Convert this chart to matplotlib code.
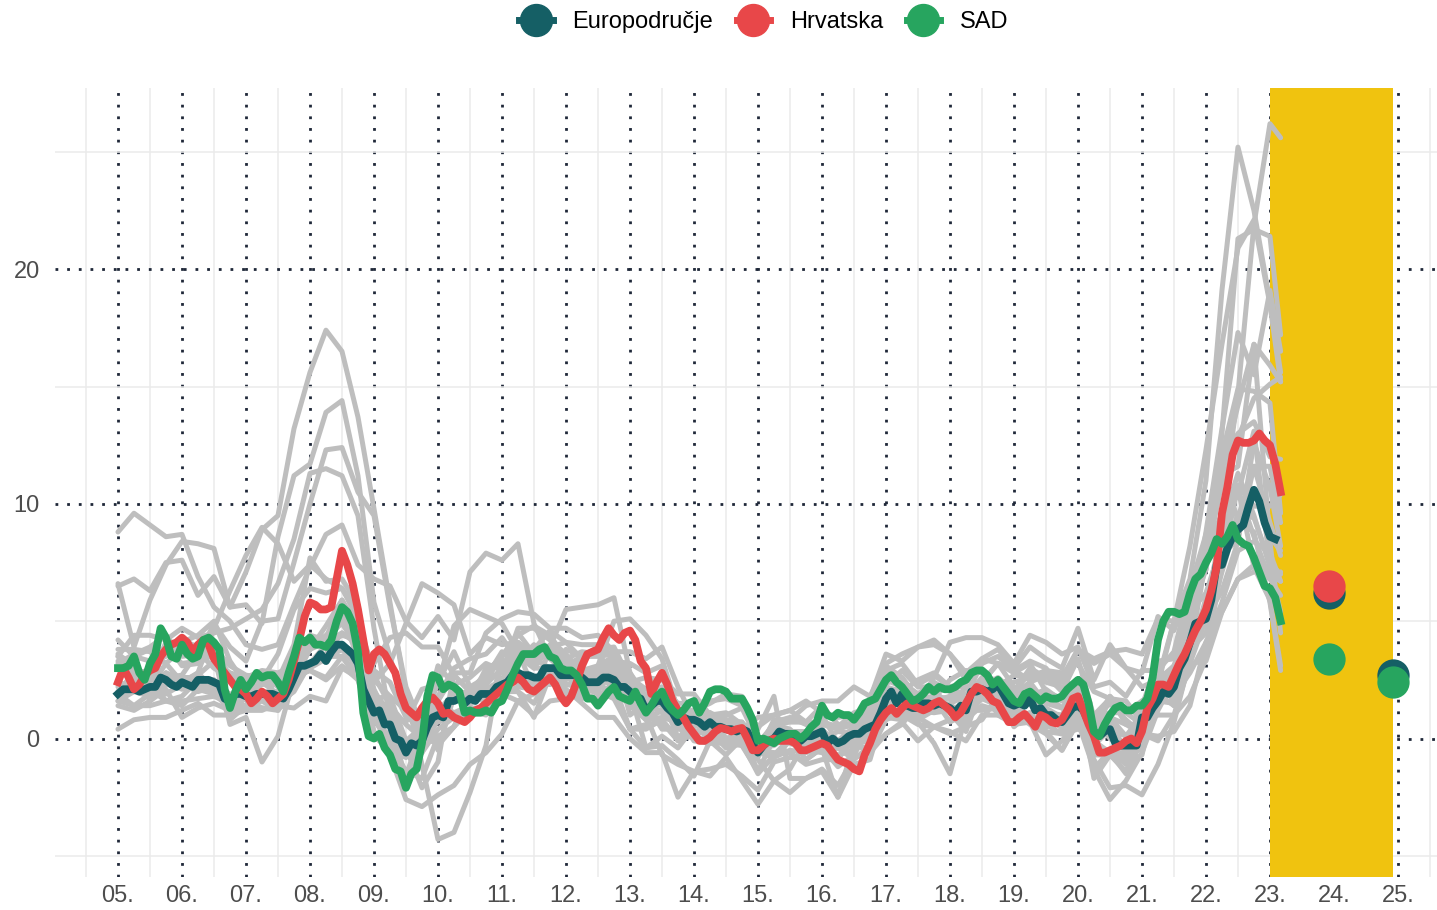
import matplotlib
matplotlib.use("Agg")
import matplotlib.pyplot as plt
from matplotlib.lines import Line2D
import numpy as np

plt.rcParams["font.family"] = ["Liberation Sans", "DejaVu Sans"]

# --- data -----------------------------------------------------------------
# monthly annual inflation rates, starting January 2005
euro_area = [
    1.9, 2.1, 2.1, 2.1, 2.0, 2.1, 2.2, 2.2, 2.6, 2.5, 2.3, 2.2,
    2.4, 2.3, 2.2, 2.5, 2.5, 2.5, 2.4, 2.3, 1.7, 1.6, 1.9, 1.9,
    1.8, 1.8, 1.9, 1.9, 1.9, 1.9, 1.8, 1.7, 2.1, 2.6, 3.1, 3.1,
    3.2, 3.3, 3.6, 3.3, 3.7, 4.0, 4.0, 3.8, 3.6, 3.2, 2.1, 1.6,
    1.1, 1.2, 0.6, 0.6, 0.0, -0.1, -0.6, -0.2, -0.3, -0.1, 0.5, 0.9,
    1.0, 0.9, 1.6, 1.6, 1.7, 1.5, 1.7, 1.6, 1.9, 1.9, 1.9, 2.2,
    2.3, 2.4, 2.7, 2.8, 2.7, 2.7, 2.6, 2.6, 3.0, 3.0, 3.0, 2.7,
    2.7, 2.7, 2.7, 2.6, 2.4, 2.4, 2.4, 2.6, 2.6, 2.5, 2.2, 2.2,
    2.0, 1.8, 1.7, 1.2, 1.4, 1.6, 1.6, 1.3, 1.1, 0.7, 0.9, 0.8,
    0.8, 0.7, 0.5, 0.7, 0.5, 0.5, 0.4, 0.4, 0.3, 0.4, 0.3, -0.2,
    -0.6, -0.3, -0.1, 0.0, 0.3, 0.2, 0.2, 0.1, -0.1, 0.1, 0.1, 0.2,
    0.3, -0.2, 0.0, -0.2, -0.1, 0.1, 0.2, 0.2, 0.4, 0.5, 0.6, 1.1,
    1.7, 2.0, 1.5, 1.9, 1.4, 1.3, 1.3, 1.5, 1.5, 1.4, 1.5, 1.4,
    1.3, 1.1, 1.4, 1.2, 2.0, 2.0, 2.1, 2.0, 2.1, 2.3, 1.9, 1.5,
    1.4, 1.5, 1.4, 1.7, 1.2, 1.3, 1.0, 1.0, 0.8, 0.7, 1.0, 1.3,
    1.4, 1.2, 0.7, 0.3, 0.1, 0.3, 0.4, -0.2, -0.3, -0.3, -0.3, -0.3,
    0.9, 0.9, 1.3, 1.6, 2.0, 1.9, 2.2, 3.0, 3.4, 4.1, 4.9, 5.0,
    5.1, 5.9, 7.4, 7.4, 8.1, 8.6, 8.9, 9.1, 9.9, 10.6, 10.1, 9.2,
    8.6, 8.5,
]
croatia = [
    2.4, 3.0, 2.6, 2.1, 2.3, 2.7, 2.9, 3.0, 3.5, 3.8, 4.0, 4.1,
    4.3, 4.1, 3.7, 4.0, 4.2, 4.0, 3.4, 3.1, 2.8, 2.5, 2.2, 2.1,
    1.9, 1.5, 1.7, 2.0, 1.8, 1.5, 1.7, 1.9, 2.5, 3.3, 4.2, 5.2,
    5.8, 5.7, 5.5, 5.5, 5.6, 6.8, 8.0, 7.4, 6.6, 5.5, 4.2, 2.9,
    3.6, 3.8, 3.6, 3.2, 2.8, 1.9, 1.3, 1.1, 0.9, 1.3, 1.6, 1.75,
    1.5, 1.05, 1.1, 0.9, 0.8, 0.7, 0.9, 1.2, 1.3, 1.5, 1.7, 1.9,
    2.1, 2.3, 2.4, 2.6, 2.4, 2.1, 2.0, 2.2, 2.4, 2.6, 2.3, 1.8,
    1.5, 1.8, 2.4, 3.1, 3.6, 3.7, 3.8, 4.3, 4.7, 4.4, 4.2, 4.5,
    4.6, 4.2, 3.3, 3.0, 1.9, 2.4, 2.8, 2.3, 1.6, 1.2, 0.9, 0.5,
    0.2, -0.1, -0.1, 0.05, 0.3, 0.45, 0.4, 0.3, 0.4, 0.45, 0.0, -0.5,
    -0.5, -0.3, -0.1, 0.0, -0.1, -0.1, -0.1, -0.2, -0.5, -0.5, -0.4, -0.3,
    -0.2, -0.3, -0.6, -0.9, -1.0, -1.1, -1.3, -1.4, -0.7, -0.2, 0.4, 0.8,
    1.1, 1.3, 1.05, 1.3, 1.5, 1.4, 1.3, 1.2, 1.3, 1.5, 1.6, 1.4,
    1.2, 0.9, 1.1, 1.5, 1.9, 2.2, 2.1, 1.9, 1.6, 1.5, 1.1, 0.7,
    0.7, 0.9, 1.05, 0.8, 0.5, 1.0, 0.9, 0.7, 0.64, 0.8, 1.2, 1.7,
    1.8, 1.2, 0.6, 0.1, -0.6, -0.6, -0.5, -0.4, -0.3, -0.1, 0.0, -0.2,
    0.3, 1.3, 1.7, 2.3, 2.3, 2.2, 2.7, 3.2, 3.6, 4.1, 4.6, 5.0,
    5.5, 6.3, 7.3, 9.6, 10.7, 12.1, 12.7, 12.6, 12.6, 12.7, 13.0, 12.7,
    12.5, 11.7, 10.5,
]
usa = [
    3.0, 3.0, 3.1, 3.5, 2.8, 2.5, 3.2, 3.6, 4.7, 4.3, 3.5, 3.4,
    4.0, 3.6, 3.4, 3.5, 4.2, 4.3, 4.1, 3.8, 2.1, 1.3, 2.0, 2.5,
    2.1, 2.4, 2.8, 2.6, 2.7, 2.7, 2.4, 2.0, 2.8, 3.5, 4.3, 4.1,
    4.3, 4.0, 4.0, 3.9, 4.2, 5.0, 5.6, 5.4, 4.9, 3.7, 1.1, 0.1,
    0.0, 0.2, -0.4, -0.7, -1.3, -1.4, -2.1, -1.5, -1.3, -0.2, 1.8, 2.7,
    2.6, 2.1, 2.3, 2.2, 2.0, 1.1, 1.2, 1.1, 1.1, 1.2, 1.1, 1.5,
    1.6, 2.1, 2.7, 3.2, 3.6, 3.6, 3.6, 3.8, 3.9, 3.5, 3.4, 3.0,
    2.9, 2.9, 2.7, 2.3, 1.7, 1.7, 1.4, 1.7, 2.0, 2.2, 1.8, 1.7,
    1.6, 2.0, 1.5, 1.1, 1.4, 1.8, 2.0, 1.5, 1.2, 1.0, 1.2, 1.5,
    1.6, 1.1, 1.5, 2.0, 2.1, 2.1, 2.0, 1.7, 1.7, 1.7, 1.3, 0.8,
    -0.1, 0.0, -0.1, -0.2, 0.0, 0.1, 0.2, 0.2, 0.0, 0.2, 0.5, 0.7,
    1.4, 1.0, 0.9, 1.1, 1.0, 1.0, 0.8, 1.1, 1.5, 1.6, 1.7, 2.1,
    2.5, 2.7, 2.4, 2.2, 1.9, 1.6, 1.7, 1.9, 2.2, 2.0, 2.2, 2.1,
    2.1, 2.2, 2.4, 2.5, 2.8, 2.9, 2.9, 2.7, 2.3, 2.5, 2.2, 1.9,
    1.6, 1.5, 1.9, 2.0, 1.8, 1.6, 1.8, 1.7, 1.7, 1.8, 2.1, 2.3,
    2.5, 2.3, 1.5, 0.3, 0.1, 0.6, 1.0, 1.3, 1.4, 1.2, 1.2, 1.4,
    1.4, 1.7, 2.6, 4.2, 5.0, 5.4, 5.4, 5.3, 5.4, 6.2, 6.8, 7.0,
    7.5, 7.9, 8.5, 8.3, 8.6, 9.1, 8.5, 8.3, 8.2, 7.7, 7.1, 6.5,
    6.4, 6.0, 5.0,
]

# projections (December 2023, December 2024)
proj_years = [2023 + 11 / 12, 2024 + 11 / 12]
euro_area_proj = [6.2, 2.7]
croatia_proj = [6.5]
usa_proj = [3.4, 2.4]

# other EU member states, quarterly (Jan, Apr, Jul, Oct), then Jan and Mar 2023
latvia = [6.5, 6.8, 6.3, 7.5, 7.6, 6.1, 6.9, 5.6, 7.1, 8.9, 9.5, 13.2,
          15.6, 17.4, 16.5, 13.7, 9.8, 5.8, 1.9, -1.1, -4.3, -4.0, -2.3, -0.3,
          3.5, 4.4, 4.8, 4.4, 3.4, 2.8, 2.0, 1.7, 0.4, -0.4, 0.1, -0.4,
          0.5, 0.8, 0.8, 0.6, -0.2, 0.6, 0.4, -0.3, -0.4, -0.8, -0.1, 0.9,
          2.9, 3.2, 2.3, 2.7, 2.2, 1.8, 2.4, 3.2, 2.9, 3.3, 3.0, 2.1,
          2.2, -0.2, -0.6, -0.8, -0.4, 1.5, 2.7, 6.0, 7.5, 13.0, 21.3, 21.7,
          21.4, 17.2]
estonia = [3.5, 4.4, 4.4, 4.2, 4.7, 4.3, 4.5, 4.7, 5.1, 5.5, 6.6, 8.5,
           11.3, 11.5, 11.2, 9.5, 4.7, 0.9, -0.4, -2.1, -1.0, 2.8, 2.8, 4.5,
           5.1, 5.4, 5.3, 4.7, 4.7, 4.3, 4.4, 3.7, 3.7, 3.4, 3.9, 2.2,
           0.8, 0.8, -0.2, 0.4, -0.6, 0.4, 0.1, -0.6, 0.1, -0.1, 0.5, 1.7,
           3.6, 3.3, 3.9, 4.0, 3.6, 2.8, 3.4, 3.2, 2.8, 3.2, 2.0, 1.7,
           1.9, -1.7, -0.7, -1.4, 0.2, 2.5, 5.0, 6.8, 11.0, 19.1, 25.2, 22.5,
           18.6, 15.6]
lithuania = [3.3, 2.9, 2.2, 3.2, 3.8, 3.5, 4.9, 3.9, 3.3, 5.0, 5.1, 7.5,
             10.0, 12.3, 12.4, 10.5, 9.5, 5.6, 2.2, 0.5, -0.3, 0.5, 1.9, 2.5,
             2.8, 4.7, 4.7, 4.2, 3.6, 2.8, 3.0, 3.2, 2.5, 1.5, 0.4, 0.4,
             0.3, 0.4, 0.5, 0.2, -1.4, -0.8, -0.1, -0.1, 0.7, 0.5, 1.1, 1.3,
             3.2, 3.6, 3.9, 4.2, 3.6, 2.5, 2.2, 2.6, 2.0, 2.8, 2.4, 2.2,
             2.4, 0.8, 1.5, 0.8, 0.2, 2.3, 5.0, 8.2, 12.3, 16.8, 20.9, 22.1,
             18.5, 15.2]
bulgaria = [6.6, 3.9, 5.9, 7.4, 8.4, 8.3, 8.1, 5.6, 5.7, 4.9, 8.6, 11.2,
            11.7, 13.9, 14.4, 11.2, 5.8, 3.5, 1.0, 0.3, 1.8, 3.0, 3.4, 3.6,
            4.3, 3.3, 3.4, 3.0, 1.9, 1.7, 2.4, 3.0, 2.6, 1.0, -0.7, -1.1,
            -1.4, -1.3, -1.1, -1.6, -2.2, -1.0, -0.8, -0.9, -0.4, -2.5, -1.1, -0.9,
            1.4, 1.7, 0.8, 1.6, 1.8, 1.8, 3.2, 3.5, 2.9, 2.5, 2.7, 2.0,
            3.4, 0.9, 1.1, 1.1, 0.6, 2.0, 2.5, 5.2, 7.7, 12.1, 14.9, 14.8,
            14.3, 9.6]
romania = [8.8, 9.6, 9.1, 8.6, 8.7, 6.9, 5.6, 5.0, 4.0, 3.8, 4.0, 5.7,
           7.3, 8.7, 9.1, 7.4, 6.8, 6.5, 5.0, 4.3, 5.2, 4.2, 7.1, 7.9,
           7.6, 8.3, 4.9, 3.4, 2.8, 1.7, 3.1, 5.0, 5.1, 4.4, 3.4, 1.2,
           1.2, 1.5, 1.9, 1.8, 0.4, 1.8, -1.7, -1.7, -1.4, -2.5, -0.2, -0.6,
           0.2, 0.6, 1.5, 2.6, 4.1, 4.3, 4.3, 4.0, 3.2, 4.4, 4.1, 3.6,
           3.9, 2.2, 2.4, 1.8, 2.9, 2.9, 3.7, 6.5, 7.2, 11.7, 13.0, 13.5,
           12.0, 11.9]
hungary = [3.8, 3.8, 3.7, 3.2, 2.4, 2.8, 4.7, 6.3, 7.8, 9.0, 8.3, 6.7,
           7.4, 6.8, 6.4, 5.1, 2.4, 3.2, 4.9, 6.6, 6.2, 5.7, 3.6, 4.3,
           4.0, 4.1, 3.1, 3.9, 5.5, 5.6, 5.7, 6.0, 2.8, 1.8, 1.8, 0.0,
           0.8, -0.2, 0.5, -0.3, -1.4, 0.0, 0.0, 0.2, 1.0, -0.2, -0.1, 1.1,
           2.3, 2.9, 2.2, 2.2, 2.2, 2.4, 3.4, 3.8, 3.0, 3.9, 3.4, 3.0,
           4.7, 2.5, 4.0, 3.0, 2.8, 5.2, 4.6, 6.6, 7.9, 9.6, 14.7, 21.9,
           26.2, 25.6]
czechia = [1.4, 1.2, 1.6, 2.3, 2.4, 2.4, 2.5, 0.8, 1.4, 2.5, 2.5, 4.0,
           7.7, 6.7, 6.8, 5.7, 1.4, 0.7, -0.1, -0.6, 0.4, 0.9, 1.6, 1.8,
           1.9, 1.6, 1.9, 2.4, 3.8, 3.5, 3.5, 3.6, 1.8, 1.7, 1.4, 0.8,
           0.3, 0.2, 0.6, 0.7, -0.1, 0.2, 0.2, 0.1, 0.6, 0.4, 0.6, 0.8,
           2.2, 2.0, 2.5, 2.8, 2.2, 2.2, 2.3, 2.2, 2.7, 2.6, 2.9, 2.6,
           3.8, 3.2, 3.6, 3.0, 2.2, 2.5, 3.1, 4.8, 8.8, 13.2, 17.3, 15.5,
           19.1, 16.5]
poland = [3.6, 3.1, 1.6, 2.1, 0.9, 1.3, 1.5, 1.2, 1.9, 2.3, 2.4, 3.1,
          4.1, 4.1, 4.5, 4.0, 3.2, 4.3, 4.5, 3.9, 3.9, 2.7, 2.0, 2.8,
          3.5, 4.1, 3.6, 3.9, 4.1, 4.0, 4.0, 3.4, 1.6, 0.8, 0.9, 0.7,
          0.6, 0.4, -0.2, -0.3, -0.6, -0.8, -0.5, -0.6, -0.4, -0.7, -0.5, 0.2,
          1.6, 1.9, 1.6, 1.6, 1.3, 1.2, 1.2, 1.3, 0.6, 2.4, 2.7, 2.4,
          3.8, 3.4, 3.7, 3.8, 3.6, 5.1, 5.0, 6.4, 8.7, 11.4, 14.2, 16.8,
          15.9, 15.2]
slovakia = [3.1, 2.5, 2.2, 3.9, 4.1, 4.4, 5.0, 3.3, 2.3, 1.6, 1.2, 2.3,
            3.2, 4.0, 4.4, 4.2, 2.7, 1.4, 0.6, 0.0, -0.2, 0.5, 1.2, 1.0,
            3.2, 3.8, 3.8, 4.6, 4.1, 3.4, 3.8, 3.9, 2.5, 1.7, 1.6, 0.9,
            -0.1, -0.2, -0.2, -0.1, -0.5, -0.1, -0.2, -0.5, -0.6, -0.4, -0.9, -0.3,
            0.9, 0.8, 1.5, 1.7, 2.5, 2.9, 2.8, 2.2, 2.4, 2.6, 2.9, 2.8,
            3.2, 2.0, 1.7, 1.6, 0.7, 1.7, 2.5, 4.4, 7.7, 10.9, 12.8, 14.5,
            15.1, 15.4]
netherlands = [1.9, 1.4, 1.4, 1.6, 1.6, 1.7, 1.8, 1.5, 1.4, 1.8, 1.4, 1.3,
               1.8, 1.6, 3.0, 2.6, 1.7, 1.8, -0.1, 0.5, 0.7, 0.9, 1.3, 1.3,
               2.0, 2.0, 1.5, 2.7, 2.9, 2.8, 2.6, 3.3, 3.2, 2.8, 3.1, 1.3,
               0.8, 0.6, 0.3, 0.3, -0.4, 0.7, 0.9, 0.6, 0.2, -0.2, -0.2, 0.4,
               1.6, 1.4, 1.5, 1.3, 1.3, 1.0, 2.1, 2.3, 2.0, 3.0, 2.6, 2.8,
               1.7, 1.0, 1.7, 1.1, 1.6, 1.9, 1.4, 3.7, 7.6, 11.2, 11.6, 16.8,
               8.4, 4.5]
belgium = [2.0, 2.8, 2.9, 2.5, 2.6, 2.6, 2.1, 1.6, 1.7, 1.3, 1.3, 2.5,
           3.8, 4.8, 5.9, 4.8, 2.1, 0.7, -1.7, -0.4, 0.8, 1.9, 2.0, 2.6,
           3.7, 3.3, 4.0, 3.4, 3.4, 2.9, 2.4, 2.7, 1.4, 1.0, 1.6, 0.7,
           1.0, 0.9, 0.6, 0.3, -0.6, 0.8, 0.8, 1.4, 1.6, 1.6, 2.2, 1.8,
           3.1, 2.6, 1.7, 1.8, 1.7, 1.8, 2.4, 3.2, 2.2, 1.8, 1.2, 0.4,
           1.4, 0.0, 1.8, 0.6, 0.6, 3.3, 1.4, 5.4, 8.5, 9.3, 10.4, 13.1,
           7.4, 4.9]
ireland = [1.9, 2.0, 2.3, 2.8, 2.5, 2.7, 3.3, 2.8, 2.6, 2.9, 2.8, 3.1,
           3.1, 3.5, 3.5, 2.7, 1.1, -0.7, -2.6, -2.9, -2.4, -2.0, -1.1, -0.6,
           0.2, 1.6, 1.0, 1.6, 1.7, 1.9, 1.7, 2.3, 0.4, 0.6, 0.7, -0.1,
           0.3, 0.4, 0.5, 0.1, -0.4, -0.3, 0.2, 0.0, 0.0, -0.2, -0.3, -0.4,
           0.2, 0.7, -0.1, 0.5, 0.3, -0.1, 1.0, 1.0, 0.8, 1.7, 0.5, 0.7,
           1.1, -0.4, -0.6, -1.5, -0.1, 1.9, 2.2, 5.1, 5.0, 7.3, 9.6, 9.4,
           7.5, 7.0]
spain = [3.1, 3.5, 3.3, 3.5, 4.2, 3.9, 4.0, 2.6, 2.4, 2.5, 2.3, 3.6,
         4.4, 4.2, 5.3, 3.6, 0.8, -0.2, -1.4, -0.6, 1.1, 1.6, 1.9, 2.3,
         3.0, 3.5, 3.0, 3.0, 2.0, 2.0, 2.2, 3.5, 2.8, 1.5, 1.9, 0.0,
         0.3, 0.3, -0.4, -0.2, -1.5, -0.7, 0.0, -0.9, -0.4, -1.2, -0.7, 0.5,
         2.9, 2.6, 1.7, 1.7, 0.7, 1.1, 2.3, 2.3, 1.0, 1.6, 0.6, 0.2,
         1.1, -0.7, -0.7, -1.0, 0.4, 2.0, 2.9, 5.4, 6.2, 8.3, 10.7, 7.3,
         5.9, 3.1]
greece = [4.2, 3.5, 3.8, 3.8, 3.2, 3.3, 3.9, 3.1, 2.7, 2.6, 2.7, 3.1,
          3.9, 4.4, 4.9, 3.9, 2.0, 1.1, 0.7, 2.1, 2.3, 4.8, 5.5, 5.2,
          4.9, 3.7, 2.1, 3.0, 2.1, 1.5, 0.9, 0.9, 0.0, -0.6, -0.6, -2.5,
          -1.4, -1.6, -0.8, -1.8, -2.8, -1.8, -1.3, -0.1, 0.0, -0.4, 0.2, 0.5,
          1.5, 1.6, 0.9, 0.5, 0.2, 0.5, 0.8, 1.8, 0.5, 1.1, 0.3, -0.5,
          0.8, -0.9, -2.1, -2.0, -2.4, -1.1, 0.7, 3.4, 5.5, 9.1, 11.3, 9.5,
          7.3, 5.4]
slovenia = [3.5, 2.8, 2.0, 2.8, 2.3, 2.8, 2.1, 1.6, 2.4, 2.5, 3.6, 5.5,
            6.4, 6.2, 6.4, 5.5, 1.9, 0.5, -0.6, 0.3, 1.6, 2.7, 2.0, 1.5,
            2.3, 2.0, 0.9, 2.7, 2.3, 2.4, 2.9, 3.3, 2.4, 1.8, 2.8, 1.3,
            0.8, 1.1, 0.0, 0.2, -0.5, -0.6, -0.6, -1.1, -0.9, -0.9, 0.2, 0.8,
            1.5, 1.9, 1.2, 1.4, 1.8, 1.6, 2.4, 2.2, 1.6, 1.8, 2.1, 1.6,
            2.3, -1.3, -0.5, -1.1, -0.7, 2.2, 2.0, 3.5, 6.0, 7.4, 10.8, 9.9,
            9.9, 10.4]
luxembourg = [3.2, 3.6, 3.9, 4.4, 3.5, 3.6, 3.9, 1.3, 2.0, 2.4, 1.9, 3.6,
              4.2, 4.3, 5.9, 4.5, 0.1, -0.1, -1.6, 0.4, 2.4, 3.7, 2.2, 2.6,
              3.5, 4.5, 3.6, 3.9, 3.2, 2.9, 2.7, 3.1, 1.7, 1.5, 2.0, 1.1,
              0.8, 1.0, 1.1, 0.6, -0.8, 0.6, 0.3, 0.3, -0.1, -0.1, 0.2, 0.2,
              2.5, 2.2, 1.8, 2.1, 1.3, 1.4, 2.2, 2.4, 1.9, 2.4, 1.5, 1.3,
              2.3, -0.1, 0.5, -0.4, 1.4, 3.3, 3.4, 5.3, 7.2, 11.5, 9.3, 8.8,
              5.8, 2.9]
portugal = [2.4, 2.0, 2.2, 2.6, 2.7, 3.7, 3.0, 2.6, 2.6, 2.8, 2.2, 2.6,
            2.9, 2.5, 3.1, 2.5, 0.1, -0.5, -1.4, -1.7, 0.1, 0.5, 1.9, 2.4,
            3.6, 4.0, 3.1, 4.0, 3.4, 2.9, 2.8, 2.1, 0.4, 0.4, 0.8, 0.0,
            0.1, -0.1, -0.7, 0.0, -0.4, 0.6, 0.7, 0.7, 0.7, 0.5, 0.7, 0.9,
            1.3, 2.4, 1.0, 1.9, 1.1, 0.3, 2.2, 1.0, 0.6, 0.7, -0.7, -0.1,
            0.8, -0.1, -0.6, -0.6, 0.2, -0.1, 1.0, 1.8, 3.4, 7.4, 9.4, 10.6,
            8.6, 8.0]
malta = [2.2, 2.0, 2.6, 4.1, 3.1, 3.2, 3.6, 0.6, 0.9, -1.0, 0.1, 2.6,
         3.8, 4.1, 5.0, 4.9, 2.9, 2.4, 0.9, 1.2, -0.5, 1.8, 1.6, 3.0,
         3.3, 2.3, 2.4, 2.3, 2.5, 3.4, 3.8, 3.6, 1.0, 1.5, 1.1, 0.5,
         0.8, 0.4, 0.8, 0.4, 0.9, 1.0, 1.2, 1.6, 1.1, 0.9, 1.0, 0.8,
         1.4, 1.1, 1.3, 1.2, 1.3, 1.3, 2.0, 1.8, 1.2, 1.6, 1.9, 1.3,
         1.3, 0.6, 0.9, 0.6, 0.2, 0.1, 0.3, 1.4, 4.1, 5.4, 6.8, 7.4,
         6.8, 7.1]
cyprus = [3.1, 2.6, 2.5, 1.6, 1.8, 2.5, 2.5, 1.5, 1.4, 1.6, 2.6, 2.4,
          4.1, 4.3, 5.3, 3.4, 0.3, -0.6, -0.8, 0.5, 3.1, 2.3, 2.6, 3.2,
          2.9, 3.9, 3.0, 3.9, 3.1, 3.5, 3.9, 1.7, 2.0, -0.4, -0.3, -0.9,
          -1.6, -0.1, 0.0, 0.0, -0.9, -1.8, -2.3, -1.7, -1.3, -2.0, -0.8, -0.6,
          0.8, 1.1, 0.7, -0.2, -1.5, 1.0, 1.7, 1.4, 1.1, 0.6, 0.2, -0.5,
          0.7, -1.3, -2.6, -1.8, -0.6, 1.2, 2.5, 4.4, 5.0, 8.6, 10.6, 8.6,
          6.8, 6.1]
austria = [2.4, 2.2, 2.1, 1.6, 1.4, 2.1, 1.9, 1.3, 1.7, 1.8, 2.0, 2.9,
           3.0, 3.4, 3.8, 3.0, 1.2, 0.6, -0.3, 0.1, 1.0, 1.8, 1.8, 2.1,
           2.5, 3.7, 3.5, 3.8, 2.8, 2.3, 2.1, 2.8, 2.6, 2.1, 2.2, 1.5,
           1.5, 1.6, 1.7, 1.4, 0.5, 1.0, 1.2, 0.7, 1.4, 0.6, 0.6, 1.3,
           1.5, 2.4, 1.9, 2.4, 2.0, 1.9, 2.1, 2.0, 1.7, 1.7, 1.1, 1.0,
           2.2, 0.6, 1.8, 1.1, 1.4, 1.9, 2.8, 3.8, 4.5, 7.1, 9.4, 11.6,
           11.6, 9.2]
germany = [1.6, 1.4, 1.9, 2.4, 2.1, 2.3, 2.1, 1.1, 1.8, 2.0, 2.0, 2.7,
           2.9, 2.6, 3.5, 2.5, 0.9, 0.8, -0.7, -0.1, 0.8, 1.0, 1.2, 1.3,
           2.0, 2.7, 2.6, 2.9, 2.3, 2.2, 1.9, 2.1, 1.9, 1.1, 1.9, 1.2,
           1.2, 1.1, 0.8, 0.7, -0.5, 0.3, 0.1, 0.2, 0.4, -0.3, 0.4, 0.7,
           1.9, 2.0, 1.5, 1.5, 1.4, 2.2, 2.1, 2.4, 1.7, 2.1, 1.1, 0.9,
           1.6, 0.8, 0.0, -0.5, 1.6, 2.1, 3.1, 4.6, 5.1, 7.8, 8.5, 11.6,
           9.2, 7.8]
france = [1.6, 2.0, 1.8, 1.9, 2.3, 2.0, 2.2, 1.2, 1.4, 1.3, 1.2, 2.1,
          3.2, 3.4, 4.0, 3.0, 0.8, 0.1, -0.8, -0.2, 1.2, 1.9, 1.9, 1.8,
          1.9, 2.2, 2.1, 2.5, 2.6, 2.4, 2.2, 2.1, 1.4, 0.8, 1.2, 0.7,
          0.8, 0.8, 0.6, 0.5, -0.4, 0.1, 0.2, 0.2, 0.3, -0.1, 0.4, 0.5,
          1.6, 1.4, 0.8, 1.2, 1.5, 1.8, 2.6, 2.5, 1.4, 1.5, 1.3, 0.9,
          1.7, 0.4, 0.9, 0.1, 0.8, 1.6, 1.5, 3.2, 3.3, 5.4, 6.8, 7.1,
          7.0, 6.7]
italy = [2.0, 2.1, 2.1, 2.6, 2.2, 2.3, 2.3, 1.9, 1.9, 1.8, 1.7, 2.3,
         3.1, 3.6, 4.0, 3.6, 1.4, 1.2, -0.1, 0.3, 1.3, 1.6, 1.8, 2.0,
         1.9, 2.9, 2.1, 3.8, 3.4, 3.7, 3.6, 2.8, 2.4, 1.3, 1.2, 0.8,
         0.6, 0.5, 0.0, 0.2, -0.5, -0.1, 0.3, 0.2, 0.4, -0.4, -0.2, -0.1,
         1.0, 2.0, 1.2, 1.1, 1.2, 0.6, 1.9, 1.7, 0.9, 1.1, 0.3, 0.2,
         0.4, 0.1, 0.8, -0.6, 0.7, 1.0, 1.0, 3.2, 5.1, 6.3, 8.4, 12.6,
         10.7, 8.2]
finland = [0.4, 0.8, 0.9, 0.9, 1.2, 1.5, 1.0, 1.0, 1.2, 1.2, 1.5, 2.0,
           3.2, 3.6, 4.5, 4.1, 2.5, 1.8, 1.2, 0.4, 1.5, 1.1, 1.4, 2.8,
           2.5, 3.3, 3.6, 3.5, 3.2, 2.9, 3.1, 3.5, 2.4, 2.6, 2.5, 1.9,
           1.9, 1.0, 1.0, 1.3, -0.1, 0.0, 0.0, -0.3, 0.0, 0.3, 0.2, 0.8,
           1.0, 1.0, 0.6, 0.5, 0.8, 0.8, 1.4, 1.2, 1.2, 1.5, 1.0, 0.8,
           1.0, -0.3, 0.4, 0.1, 1.0, 2.0, 1.8, 2.8, 4.1, 5.8, 8.0, 8.4,
           7.9, 6.7]

other_countries = [latvia, estonia, lithuania, bulgaria, romania, hungary,
                   czechia, poland, slovakia, netherlands, belgium, ireland,
                   spain, greece, slovenia, luxembourg, portugal, malta,
                   cyprus, austria, germany, france, italy, finland]

series_names = ["Europodručje", "Hrvatska", "SAD"]
series_colors = ["#155F65", "#E84749", "#27A55F"]

years = list(range(2005, 2026))
tick_labels = [f"{y % 100:02d}." for y in years]

# --- time axes --------------------------------------------------------------
monthly_x = lambda n: 2005 + np.arange(n) / 12.0
quarter_months = list(range(0, 217, 3)) + [218]
quarter_x = 2005 + np.array(quarter_months) / 12.0

# --- figure -----------------------------------------------------------------
fig = plt.figure(figsize=(14.37, 9.10), dpi=100)
ax = fig.add_axes([55 / 1437, 1 - 877 / 910, 1 - 55 / 1437, (877 - 88) / 910])

ax.set_xlim(2004.016, 2025.61)
ax.set_ylim(-5.9, 27.72)

ax.set_xticks(years)
ax.set_xticklabels(tick_labels)
ax.set_xticks([y - 0.5 for y in years] + [2025.5], minor=True)
ax.set_yticks([0, 10, 20])
ax.set_yticks([-5, 5, 15, 25], minor=True)

ax.set_axisbelow(True)
ax.grid(which="minor", color="#EBEBEB", linewidth=1.1, linestyle="-")
ax.grid(which="major", color="#1E2738", linewidth=2.0, linestyle=(0, (1, 3.2)))
for s in ax.spines.values():
    s.set_visible(False)
ax.tick_params(which="both", length=0)
ax.tick_params(axis="x", labelsize=17, labelcolor="#4D4D4D", pad=6)
ax.tick_params(axis="y", labelsize=17, labelcolor="#4D4D4D", pad=11)

# projection period
ax.axvspan(2023.0, 2024 + 11 / 12, color="#F0C30F", zorder=1, linewidth=0)

for vals in other_countries:
    ax.plot(quarter_x, vals, color="#BEBEBE", linewidth=3.6, zorder=2,
            solid_joinstyle="round", solid_capstyle="round")

main_series = [euro_area, croatia, usa]
for i, (vals, c) in enumerate(zip(main_series, series_colors)):
    ax.plot(monthly_x(len(vals)), vals, color=c, linewidth=5.6, zorder=3 + i,
            solid_joinstyle="round")

projections = [euro_area_proj, croatia_proj, usa_proj]
for i, (vals, c) in enumerate(zip(projections, series_colors)):
    ax.scatter(proj_years[:len(vals)], vals, s=540, color=c, zorder=7 + i,
               linewidths=0)

handles = [Line2D([], [], color=c, linewidth=5, marker="o", markersize=23)
           for c in series_colors]
fig.legend(handles, series_names, loc="center", ncol=3, frameon=False,
           bbox_to_anchor=(764 / 1437, 1 - 22 / 910), fontsize=17,
           handlelength=1.4, handletextpad=0.85, columnspacing=1.0)

fig.savefig("out.png", dpi=100)
